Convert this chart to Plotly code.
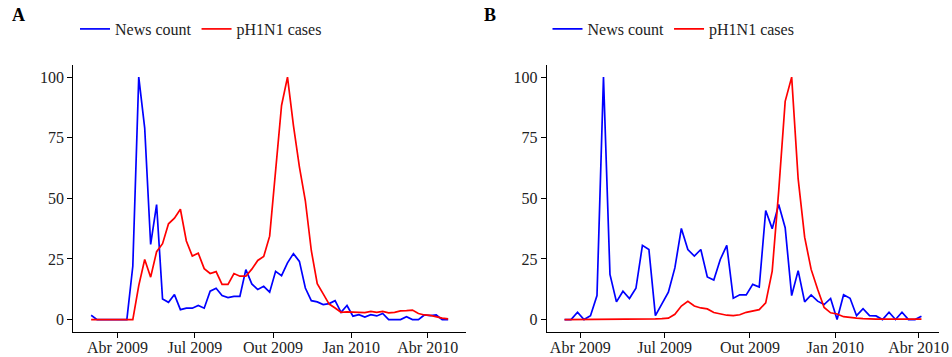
import pandas as pd
import plotly.graph_objects as go

# ---- data ----
start_A = "2009-03-01"
start_B = "2009-03-15"

news_A = [1.8, 0, 0, 0, 0, 0, 0, 22, 100, 79, 31, 47.4, 8.5, 7.1, 10.3, 4.1, 4.7, 4.7, 5.8, 4.7,
          11.7, 12.9, 9.9, 9.1, 9.6, 9.6, 20.6, 14.7, 12.4, 13.7, 11.3, 19.9, 18.1, 23.4, 27.2, 24,
          13, 7.8, 7.3, 6.2, 6.6, 7.8, 3, 5.8, 1.4, 2, 1, 2, 1.5, 2.5, 0, 0, 0, 1.2, 0, 0, 1.9, 1.6,
          1.9, 0, 0]
cases_A = [0, 0, 0, 0, 0, 0, 0, 0, 14, 24.8, 17.5, 28, 31.3, 39.5, 41.8, 45.5, 32.4, 26.2, 27.4, 21,
           19, 19.8, 14.5, 14.5, 19, 17.9, 17.9, 20.8, 24.4, 26, 34.4, 62, 88.3, 100, 80, 63, 49,
           28.5, 14.8, 10.6, 6.4, 4.8, 3, 3.2, 3, 2.9, 2.9, 3.4, 3, 3.4, 2.8, 3, 3.6, 3.7, 3.9, 2.5,
           1.9, 1.7, 1.1, 0.6, 0.3]

news_B = [0, 0, 3, 0, 1.6, 9.9, 100, 18.6, 7.3, 11.7, 8.7, 12.9, 30.6, 28.9, 1.6, 6.2, 11.3, 21.3,
          37.6, 28.9, 26.2, 28.9, 17.6, 16.3, 24.8, 30.6, 8.8, 10.2, 10.2, 14.5, 13.4, 45, 37.5,
          47.5, 37.9, 9.9, 20.2, 7.3, 10.2, 7.6, 6.2, 8.7, 0, 10.2, 8.8, 1.6, 4.5, 1.6, 1.5, 0, 3,
          0, 3, 0, 0, 1.4]
cases_B = [0, 0, 0, 0, 0, 0, 0, 0, 0, 0, 0, 0.2, 0.3, 0.3, 0.3, 0.4, 0.6, 2.2, 5.6, 7.5, 5.6, 4.8,
           4.4, 2.9, 2.3, 1.8, 1.6, 2.0, 3.0, 3.4, 4.1, 6.9, 20, 53, 90, 100, 58, 34, 20.7, 12.5, 5,
           2.8, 2.3, 1.2, 0.8, 0.6, 0.4, 0.2, 0.2, 0.2, 0.2, 0.2, 0.2, 0.2, 0.2, 0.2]

tick_dates = ["2009-04-01", "2009-07-01", "2009-10-01", "2010-01-01", "2010-04-01"]
tick_labels = ["Abr 2009", "Jul 2009", "Out 2009", "Jan 2010", "Abr 2010"]
y_ticks = [0, 25, 50, 75, 100]

dates_A = pd.date_range(start_A, periods=len(news_A), freq="7D")
dates_B = pd.date_range(start_B, periods=len(news_B), freq="7D")

BLUE = "#0000FF"
RED = "#FF0000"
FONT = "Liberation Serif"
LW = 1.7

fig = go.Figure()
fig.add_trace(go.Scatter(x=dates_A, y=news_A, mode="lines", name="News count",
                         line=dict(color=BLUE, width=LW), xaxis="x", yaxis="y", legend="legend"))
fig.add_trace(go.Scatter(x=dates_A, y=cases_A, mode="lines", name="pH1N1 cases",
                         line=dict(color=RED, width=LW), xaxis="x", yaxis="y", legend="legend"))
fig.add_trace(go.Scatter(x=dates_B, y=news_B, mode="lines", name="News count",
                         line=dict(color=BLUE, width=LW), xaxis="x2", yaxis="y2", legend="legend2"))
fig.add_trace(go.Scatter(x=dates_B, y=cases_B, mode="lines", name="pH1N1 cases",
                         line=dict(color=RED, width=LW), xaxis="x2", yaxis="y2", legend="legend2"))


def pad_range(dates):
    span = dates[-1] - dates[0]
    return [dates[0] - span * 0.05, dates[-1] + span * 0.05]


axis_common = dict(showline=True, linecolor="black", linewidth=1.1, ticks="outside",
                   tickcolor="black", ticklen=5, tickwidth=1, showgrid=False, zeroline=False,
                   tickfont=dict(family=FONT, size=16, color="#222"), automargin=False)

y_top = 1 - 65 / 357
y_bot = 1 - 331.7 / 357

fig.update_layout(
    width=952, height=357,
    margin=dict(l=0, r=0, t=0, b=0),
    paper_bgcolor="white", plot_bgcolor="white",
    font=dict(family=FONT, size=16, color="#222"),
    showlegend=True,
    xaxis=dict(domain=[73.3 / 952, 466 / 952], range=pad_range(dates_A),
               tickvals=tick_dates, ticktext=tick_labels, anchor="y",
               ticklabelstandoff=-4, **axis_common),
    yaxis=dict(domain=[y_bot, y_top], range=[-5, 105], tickvals=y_ticks, anchor="x",
               **axis_common),
    xaxis2=dict(domain=[546.7 / 952, 939.3 / 952], range=pad_range(dates_B),
                tickvals=tick_dates, ticktext=tick_labels, anchor="y2",
                ticklabelstandoff=-4, **axis_common),
    yaxis2=dict(domain=[y_bot, y_top], range=[-5, 105], tickvals=y_ticks, anchor="x2",
                **axis_common),
    legend=dict(orientation="h", x=201 / 952, xanchor="center", y=1 - 29 / 357,
                yanchor="middle", font=dict(family=FONT, size=16, color="#222"),
                bgcolor="rgba(0,0,0,0)", itemwidth=30),
    legend2=dict(orientation="h", x=673.5 / 952, xanchor="center", y=1 - 29 / 357,
                 yanchor="middle", font=dict(family=FONT, size=16, color="#222"),
                 bgcolor="rgba(0,0,0,0)", itemwidth=30),
    annotations=[
        dict(text="<b>A</b>", x=18.5 / 952, y=1 - 15 / 357, xref="paper", yref="paper",
             showarrow=False, font=dict(family=FONT, size=18, color="black"),
             xanchor="center", yanchor="middle"),
        dict(text="<b>B</b>", x=490 / 952, y=1 - 15 / 357, xref="paper", yref="paper",
             showarrow=False, font=dict(family=FONT, size=18, color="black"),
             xanchor="center", yanchor="middle"),
    ],
)

fig.write_html("out.html")
